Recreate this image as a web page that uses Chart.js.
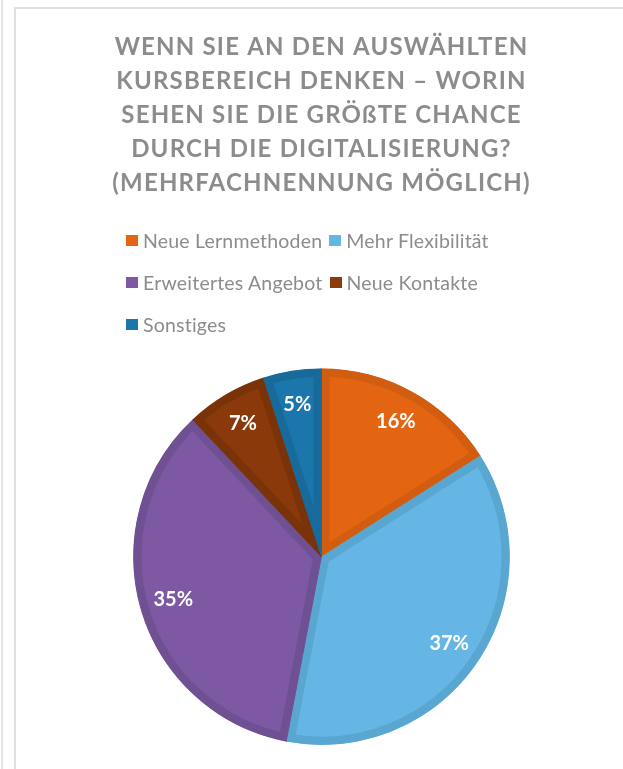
<!DOCTYPE html>
<html>
<head>
<meta charset="utf-8">
<script src="https://cdn.jsdelivr.net/npm/chart.js@4.4.1/dist/chart.umd.min.js"></script>
<style>
  body { margin: 0; background: #fff; width: 623px; height: 769px; overflow: hidden; position: relative; }
  .edge { position: absolute; left: 1px; top: 0; width: 2px; height: 769px; background: #e4e4e4; }
  .frame { position: absolute; left: 14px; top: 7px; width: 700px; height: 800px; border-left: 2px solid #e0e0e0; border-top: 2px solid #e0e0e0; }
  #wrap { position: absolute; left: 0; top: 0; width: 623px; height: 769px; }
  #legend { position: absolute; left: 126px; top: 219px; width: 410px; display: flex; flex-wrap: wrap;
            font-family: Lato, sans-serif; font-size: 19.5px; letter-spacing: 0.2px; color: #8c8c8c; }
  #legend .item { display: flex; align-items: center; height: 42px; margin-right: 7px; white-space: nowrap; }
  #legend .box { width: 12px; height: 11px; margin-right: 5px; }
</style>
</head>
<body>
<div class="edge"></div>
<div class="frame"></div>
<div id="wrap"><canvas id="myChart"></canvas></div>
<div id="legend"></div>
<script>
const titleLines = ['WENN SIE AN DEN AUSWÄHLTEN', 'KURSBEREICH DENKEN – WORIN', 'SEHEN SIE DIE GRÖßTE CHANCE', 'DURCH DIE DIGITALISIERUNG?', '(MEHRFACHNENNUNG MÖGLICH)'];
const labels = ['Neue Lernmethoden', 'Mehr Flexibilität', 'Erweitertes Angebot', 'Neue Kontakte', 'Sonstiges'];
const shares = [16, 37, 35, 7, 5];
const fills = ['#e46511', '#65b6e4', '#7d58a3', '#8a390b', '#1b77ab'];
const edges = ['#d25c0f', '#59a7d0', '#6f5092', '#7a3209', '#176a9a'];

// percent labels inside each slice
const sliceLabels = {
  id: 'sliceLabels',
  afterDatasetsDraw(chart) {
    const ctx = chart.ctx;
    const meta = chart.getDatasetMeta(0);
    ctx.save();
    ctx.letterSpacing = '0px';
    ctx.font = 'bold 20px Lato, sans-serif';
    ctx.fillStyle = '#fff';
    ctx.textAlign = 'center';
    ctx.textBaseline = 'middle';
    meta.data.forEach((arc, i) => {
      const p = arc.getProps(['x', 'y', 'startAngle', 'endAngle', 'outerRadius'], true);
      const mid = (p.startAngle + p.endAngle) / 2;
      const r = p.outerRadius * 0.82;
      ctx.fillText(shares[i] + '%', p.x + Math.cos(mid) * r, p.y + Math.sin(mid) * r);
    });
    ctx.restore();
  }
};

const spacing = {
  id: 'spacing',
  beforeDraw(chart) { chart.ctx.letterSpacing = '1.2px'; }
};

const ctx = document.getElementById('myChart');

const chart = new Chart(ctx, {
  type: 'pie',
  data: {
    labels: labels,
    datasets: [{
      data: shares,
      backgroundColor: fills,
      borderColor: edges,
      borderWidth: 8,
      borderAlign: 'inner'
    }]
  },
  options: {
    responsive: true,
    maintainAspectRatio: false,
    animation: false,
    layout: { padding: { left: 20, bottom: 24 } },
    plugins: {
      legend: { display: false },
      tooltip: { enabled: false },
      title: {
        display: true,
        text: titleLines,
        color: '#8c8c8c',
        font: { family: 'Lato', size: 24, weight: 'bold', lineHeight: 1.42 },
        padding: { top: 30, bottom: 168 }
      }
    }
  },
  plugins: [spacing, sliceLabels]
});

// legend built from the chart's own labels and colours
const legendEl = document.getElementById('legend');
chart.data.labels.forEach((name, i) => {
  const item = document.createElement('div');
  item.className = 'item';
  const box = document.createElement('span');
  box.className = 'box';
  box.style.background = fills[i];
  const txt = document.createElement('span');
  txt.textContent = name;
  item.appendChild(box);
  item.appendChild(txt);
  legendEl.appendChild(item);
});
</script>
</body>
</html>
